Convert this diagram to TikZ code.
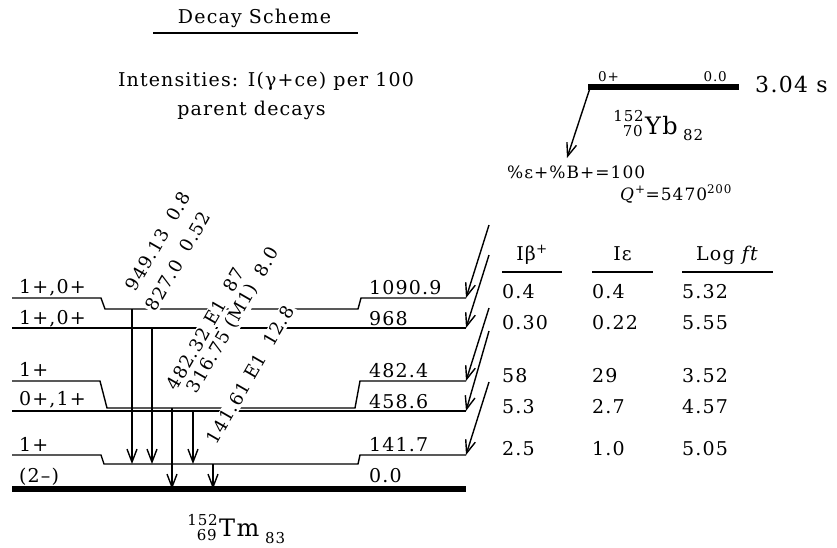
\documentclass[tikz,border=0pt]{standalone}
\usepackage{fontspec}
\setmainfont{DejaVu Serif}[LetterSpace=6]
\usetikzlibrary{arrows.meta}
\newcommand\basefont{\fontsize{19}{22}\selectfont}
\newcommand\glfont{\fontsize{18}{21}\selectfont}
\newcommand\smfont{\fontsize{13.5}{16}\selectfont}
\newcommand\numfont{\fontsize{15}{17}\selectfont}
\newcommand\nucfont{\fontsize{24}{27}\selectfont}
\tikzset{
  lvl/.style={line width=1.4pt},
  gs/.style={line width=1.4pt,-{Straight Barb[length=13pt,width=10pt,line width=1.4pt]}},
  txt/.style={inner sep=0pt,font=\basefont},
  glab/.style={rotate=60,anchor=base west,inner sep=1.5pt,fill=white,font=\glfont},
}
\begin{document}
\begin{tikzpicture}[x=1pt,y=-1pt]
\useasboundingbox (0,0) rectangle (837,547);

% header
\node[txt,anchor=base] (title) at (254.5,23) {Decay Scheme};
\draw[line width=1.5pt] (153,33) -- (358,33);
\node[txt,anchor=base] (int1) at (266,86) {Intensities: I(γ+ce) per 100};
\node[txt,anchor=base] (int2) at (251.5,115) {parent decays};

% parent
\draw[line width=6pt] (588,87) -- (739,87);
\node[txt,font=\smfont,anchor=base west] (pj) at (598,81) {0+};
\node[txt,font=\smfont,anchor=base east] (pe) at (727,81) {0.0};
\node[txt,font=\fontsize{22}{26}\selectfont,anchor=base west] (hl) at (755,92) {3.04 s};
\node[txt,font=\numfont,anchor=base east] (yba) at (644,121) {152};
\node[txt,font=\numfont,anchor=base east] (ybz) at (643,136) {70};
\node[txt,font=\nucfont,anchor=base west] (yb) at (645,134) {Yb};
\node[txt,font=\numfont,anchor=base west] (ybn) at (683,140) {82};
\coordinate (ps) at (590,88);
\coordinate (pe2) at (567,158);
\draw[gs] (ps) -- (pe2);
\node[txt,font=\fontsize{17}{20}\selectfont,anchor=base west] (br) at (507,178) {\%ε+\%B+=100};
\node[txt,font=\fontsize{17}{20}\selectfont,anchor=base west] (qv) at (620,200) {\textit{Q}\textsuperscript{+}=5470\textsuperscript{200}};

% levels
\draw[lvl] (12,298) -- (101,298) -- (105,309) -- (358,309) -- (361,298) -- (466,298);
\draw[lvl] (12,328) -- (466,328);
\draw[lvl] (12,381) -- (100,381) -- (107,408) -- (355,408) -- (360,381) -- (466,381);
\draw[lvl] (12,411) -- (466,411);
\draw[lvl] (12,455) -- (101,455) -- (104,464) -- (358,464) -- (360,455) -- (466,455);
\draw[line width=6pt] (12,489) -- (466,489);

% level labels
\node[txt,anchor=base west] (l1a) at (19,293) {1+,0+};
\node[txt,anchor=base west] (l2a) at (19,324) {1+,0+};
\node[txt,anchor=base west] (l3a) at (19,376) {1+};
\node[txt,anchor=base west] (l4a) at (19,405) {0+,1+};
\node[txt,anchor=base west] (l5a) at (19,451) {1+};
\node[txt,anchor=base west] (l6a) at (19,482) {(2–)};
\node[txt,anchor=base west] (l1b) at (369,294) {1090.9};
\node[txt,anchor=base west] (l2b) at (369,325) {968};
\node[txt,anchor=base west] (l3b) at (369,377) {482.4};
\node[txt,anchor=base west] (l4b) at (369,408) {458.6};
\node[txt,anchor=base west] (l5b) at (369,451) {141.7};
\node[txt,anchor=base west] (l6b) at (369,482) {0.0};

% gamma labels
\node[glab] (ga) at (135,294) {949.13\hspace{12pt}0.8};
\node[glab] (gb) at (155,314) {827.0\hspace{12pt}0.52};
\node[glab] (gc) at (176,393) {482.32 E1\hspace{12pt}87};
\node[glab] (gd) at (196,396) {316.75 (M1)\hspace{12pt}8.0};
\node[glab] (ge) at (216,447) {141.61 E1\hspace{12pt}12.8};

% gamma transitions
\coordinate (g1s) at (132,309); \coordinate (g1e) at (132,464);
\coordinate (g2s) at (152,328); \coordinate (g2e) at (152,464);
\coordinate (g3s) at (172,408); \coordinate (g3e) at (172,489);
\coordinate (g4s) at (193,411); \coordinate (g4e) at (193,464);
\coordinate (g5s) at (213,464); \coordinate (g5e) at (213,489);
\draw[gs] (g1s) -- (g1e);
\draw[gs] (g2s) -- (g2e);
\draw[gs] (g3s) -- (g3e);
\draw[gs] (g4s) -- (g4e);
\draw[gs] (g5s) -- (g5e);

% beta feeding
\coordinate (b1s) at (489,225); \coordinate (b1e) at (466,298);
\coordinate (b2s) at (489,255); \coordinate (b2e) at (466,328);
\coordinate (b3s) at (489,308); \coordinate (b3e) at (466,381);
\coordinate (b4s) at (489,331); \coordinate (b4e) at (466,411);
\coordinate (b5s) at (489,382); \coordinate (b5e) at (466,455);
\foreach \i in {1,...,5} {\draw[gs] (b\i s) -- (b\i e);}

% table
\node[txt,anchor=base] (h1) at (532,260) {Iβ\textsuperscript{+}};
\node[txt,anchor=base] (h2) at (622.5,260) {Iε};
\node[txt,anchor=base] (h3) at (727.5,260) {Log \textit{ft}};
\draw[line width=2pt] (502,272) -- (562,272);
\draw[line width=2pt] (592,272) -- (653,272);
\draw[line width=2pt] (682,272) -- (773,272);
\node[txt,anchor=base west] (r1a) at (502,298) {0.4};
\node[txt,anchor=base west] (r1b) at (592,298) {0.4};
\node[txt,anchor=base west] (r1c) at (682,298) {5.32};
\node[txt,anchor=base west] (r2a) at (502,329) {0.30};
\node[txt,anchor=base west] (r2b) at (592,329) {0.22};
\node[txt,anchor=base west] (r2c) at (682,329) {5.55};
\node[txt,anchor=base west] (r3a) at (502,382) {58};
\node[txt,anchor=base west] (r3b) at (592,382) {29};
\node[txt,anchor=base west] (r3c) at (682,382) {3.52};
\node[txt,anchor=base west] (r4a) at (502,413) {5.3};
\node[txt,anchor=base west] (r4b) at (592,413) {2.7};
\node[txt,anchor=base west] (r4c) at (682,413) {4.57};
\node[txt,anchor=base west] (r5a) at (502,455) {2.5};
\node[txt,anchor=base west] (r5b) at (592,455) {1.0};
\node[txt,anchor=base west] (r5c) at (682,455) {5.05};

% daughter
\node[txt,font=\numfont,anchor=base east] (tma) at (218,525) {152};
\node[txt,font=\numfont,anchor=base east] (tmz) at (217,540) {69};
\node[txt,font=\nucfont,anchor=base west] (tm) at (219,536) {Tm};
\node[txt,font=\numfont,anchor=base west] (tmn) at (265,543) {83};
\end{tikzpicture}
\end{document}
